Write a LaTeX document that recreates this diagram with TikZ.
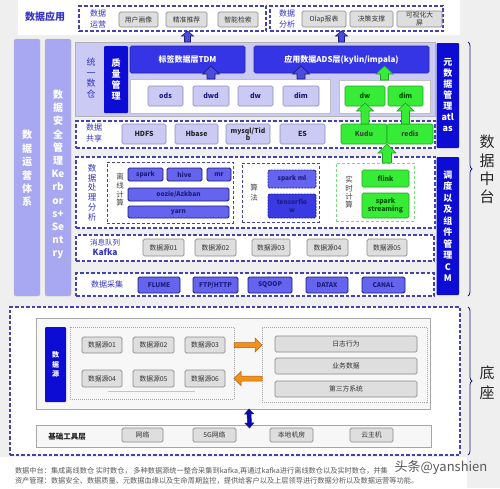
\documentclass[tikz,border=0pt]{standalone}
\usepackage{fontspec}
\setmainfont{Noto Sans CJK SC}
\usetikzlibrary{calc,decorations.pathreplacing}
\definecolor{bgc}{HTML}{EFEFEF}
\definecolor{dashc}{HTML}{4242B4}
\definecolor{lavc}{HTML}{A8A8F2}
\definecolor{lavL}{HTML}{CACAF4}
\definecolor{lavD}{HTML}{8C8CB8}
\definecolor{dblue}{HTML}{0C0CD4}
\definecolor{mblue}{HTML}{3535E6}
\definecolor{vblue}{HTML}{6464EE}
\definecolor{tfblue}{HTML}{3A3AE2}
\definecolor{navy}{HTML}{1C1C7C}
\definecolor{tblue}{HTML}{3434C4}
\definecolor{gfill}{HTML}{36EC36}
\definecolor{gdraw}{HTML}{22A022}
\definecolor{gdash}{HTML}{7ADC7A}
\definecolor{grayf}{HTML}{DEDEDE}
\definecolor{grayd}{HTML}{8A8A8A}
\definecolor{orng}{HTML}{F2901E}
\definecolor{orngd}{HTML}{B0600E}
\definecolor{arrb}{HTML}{4C4CDC}
\newcommand\fs[2]{\fontsize{#1}{#2}\selectfont}
\newcommand\bx[7]{\node[#2,minimum width={(#5-#3)*1pt},minimum height={(#6-#4)*1pt}] (#1) at ({(#3+#5)/2},{(#4+#6)/2}) {#7};}
\newcommand\fatarrow[6]{%
\path #2 coordinate (faS) #3 coordinate (faE);
\path ($(faE)!#6!(faS)$) coordinate (faH);
\draw[#1] ($(faS)!#4!90:(faE)$) -- ($(faH)!#4!-90:(faS)$) -- ($(faH)!#5!-90:(faS)$) -- (faE) -- ($(faH)!#5!90:(faS)$) -- ($(faH)!#4!90:(faS)$) -- ($(faS)!#4!-90:(faE)$) -- cycle;}
\newcommand\fatdarrow[6]{%
\path #2 coordinate (faS) #3 coordinate (faE);
\path ($(faE)!#6!(faS)$) coordinate (faH) ($(faS)!#6!(faE)$) coordinate (faG);
\draw[#1] (faS) -- ($(faG)!#5!90:(faE)$) -- ($(faG)!#4!90:(faE)$) -- ($(faH)!#4!-90:(faS)$) -- ($(faH)!#5!-90:(faS)$) -- (faE) -- ($(faH)!#5!90:(faS)$) -- ($(faH)!#4!90:(faS)$) -- ($(faG)!#4!-90:(faE)$) -- ($(faG)!#5!-90:(faE)$) -- cycle;}
\tikzset{
 every node/.style={inner sep=0pt,outer sep=0pt},
 dbox/.style={draw=dashc,line width=1.2pt,dash pattern=on 3.5pt off 2pt,fill=white},
 dboxthin/.style={draw=dashc,line width=1pt,dash pattern=on 3pt off 2pt,fill=white},
 gdbox/.style={draw=gdash,line width=1pt,dash pattern=on 3pt off 2pt,fill=white},
 graybox/.style={draw=grayd,fill=grayf,rounded corners=1.5pt,line width=0.7pt,font=\fs{6.8}{7.6},text=black!80,align=center},
 lavbox/.style={draw=lavD,fill=lavL,rounded corners=1.5pt,line width=0.6pt,font=\bfseries\fs{7}{8},text=navy,align=center},
 shbox/.style={lavbox,text=black!85},
 vbox/.style={draw=navy,fill=vblue,rounded corners=1.5pt,line width=0.8pt,font=\bfseries\fs{6.5}{7.5},text=navy,align=center},
 gbox/.style={draw=gdraw,fill=gfill,rounded corners=1.5pt,line width=0.6pt,font=\bfseries\fs{6.8}{8},text=black!70!green,align=center},
 dbbox/.style={fill=dblue,draw=none,text=white,font=\bfseries\fs{9}{11},align=center,rounded corners=1pt},
 mbbox/.style={fill=mblue,draw=mblue!70!black,line width=0.6pt,text=white,font=\bfseries\fs{8}{9},rounded corners=1.5pt},
 wbox/.style={fill=white,draw=gray!50,line width=0.6pt},
 tlabel/.style={text=tblue,align=center,font=\fs{8}{11}},
 lavcol/.style={fill=lavc,draw=gray!50,rounded corners=1.5pt},
 coltext/.style={text=white,font=\bfseries\fs{10}{13.2},align=center},
 grayframe/.style={draw=gray!70,fill=white!97!black,line width=0.8pt},
 dotbox/.style={draw=gray!70,dash pattern=on 1pt off 1pt,line width=0.7pt,fill=white!97!black},
 ftxt/.style={text=black!65,font=\fs{7.2}{8},anchor=west},
 bluearr/.style={fill=arrb,draw=navy,line width=0.6pt},
 greenarr/.style={fill=gfill,draw=gdraw,line width=0.6pt},
 orangearr/.style={fill=orng,draw=orngd,line width=0.5pt},
 darkarr/.style={fill=dblue!80!black,draw=navy,line width=0.5pt},
 bracec/.style={decorate,decoration={brace,amplitude=4pt},draw=navy,line width=0.8pt}
}
\begin{document}
\begin{tikzpicture}[x=1pt,y=-1pt]
\useasboundingbox (0,0) rectangle (500,488);
\fill[bgc] (0,0) rectangle (500,488);
\fill[white] (18,0) rectangle (460,35);
\fill[white] (0,457) rectangle (467,488);
% top row
\node[tlabel,font=\bfseries\fs{10}{12}] (appl) at (45,17) {数据应用};
\bx{yy}{dbox}{79}{6}{266}{31}{}
\node[tlabel] (yyl) at (98,18.5) {数据\\运营};
\bx{u1}{graybox}{119}{12}{158}{27}{用户画像}
\bx{u2}{graybox}{166}{12}{207}{27}{精准推荐}
\bx{u3}{graybox}{218}{12}{258}{27}{智能检索}
\bx{fx}{dbox}{270}{6}{443}{31}{}
\node[tlabel] (fxl) at (287,18.5) {数据\\分析};
\bx{a1}{graybox}{302}{11}{346}{27}{Olap报表}
\bx{a2}{graybox}{350}{11}{393}{27}{决策支撑}
\bx{a3}{graybox}{397}{11}{442}{27}{可视化大\\屏}
% left columns
\bx{yyc}{lavcol}{14}{39}{40}{296}{}
\node[coltext,font=\bfseries\fs{10}{13.4}] (yyct) at (27,168.5) {数\\据\\运\\营\\体\\系};
\bx{aqc}{lavcol}{45}{39}{71}{296}{}
\node[coltext] (aqct) at (58,174.5) {数\\据\\安\\全\\管\\理\\Ke\\rb\\or\\s+\\Se\\nt\\ry};
% unified warehouse
\bx{tyc}{fill=lavL,draw=gray!60,line width=0.6pt}{75}{42}{435}{116}{}
\node[tlabel,font=\fs{9}{10.7}] (tyl) at (91,78) {统\\一\\数\\仓};
\bx{zl}{dbbox}{104}{46}{128}{113}{质\\量\\管\\理}
\bx{tdm}{mbbox}{130}{46}{245}{73}{标签数据层TDM}
\bx{ads}{mbbox}{254}{46}{429}{73}{应用数据ADS层(kylin/impala)}
\bx{w1}{wbox}{130}{79}{330}{113}{}
\bx{ods}{lavbox}{148}{86}{183}{106}{ods}
\bx{dwd}{lavbox}{193}{86}{229}{106}{dwd}
\bx{dw}{lavbox}{238}{86}{273}{106}{dw}
\bx{dim}{lavbox}{283}{86}{319}{106}{dim}
\bx{w2}{wbox}{339}{80}{430}{113}{}
\bx{gdw}{gbox}{345}{86}{385}{106}{dw}
\bx{gdim}{gbox}{388}{86}{423}{106}{dim}
% right blue columns
\bx{meta}{dbbox}{436.5}{43}{459}{148}{元\\数\\据\\管\\理\\atl\\as}
\bx{cm}{dbbox,font=\bfseries\fs{9}{11.5}}{436.5}{157}{459}{295}{调\\度\\以\\及\\组\\件\\管\\理\\C\\M}
% data sharing
\bx{gx}{dbox}{76}{121}{435}{148}{}
\node[tlabel] (gxl) at (94,133) {数据\\共享};
\bx{hdfs}{shbox}{122}{124}{166}{144}{HDFS}
\bx{hbase}{shbox}{175}{124}{218}{144}{Hbase}
\bx{mysql}{shbox,font=\bfseries\fs{6.8}{7.5}}{226}{124}{270}{144}{mysql/Tid\\b}
\bx{es}{shbox}{280}{124}{325}{144}{ES}
\bx{kudu}{gbox,text=black!75}{341}{124}{387}{144}{Kudu}
\bx{redis}{gbox,text=black!75}{387}{124}{433}{144}{redis}
% processing
\bx{cl}{dbox}{76}{157}{435}{228}{}
\node[tlabel,font=\fs{8.5}{9.8}] (cll) at (92,192.5) {数\\据\\处\\理\\分\\析};
\bx{lx}{dboxthin}{107}{162}{233}{223}{}
\node[align=center,text=black!75,font=\fs{7.5}{8.7}] (lxl) at (120,190) {离\\线\\计\\算};
\bx{spark}{vbox}{128}{168}{163}{181}{spark}
\bx{hive}{vbox}{167}{168}{202}{181}{hive}
\bx{mr}{vbox}{207}{168}{231}{181}{mr}
\bx{oozie}{vbox}{128}{188}{229}{201}{oozie/Azkban}
\bx{yarn}{vbox}{128}{206}{229}{218}{yarn}
\bx{sf}{dboxthin}{242}{163}{319}{222}{}
\node[align=center,text=black!75,font=\fs{7.5}{10}] (sfl) at (254,193) {算\\法};
\bx{sml}{vbox,dash pattern=on 2pt off 1pt}{268}{170}{316}{188}{spark ml}
\bx{tf}{vbox,fill=tfblue,dash pattern=on 2pt off 1pt}{268}{194}{316}{218}{tensorflo\\w}
\bx{ss}{gdbox}{336}{163}{414}{221}{}
\node[align=center,text=black!75,font=\fs{7.5}{8.4}] (ssl) at (349,192.5) {实\\时\\计\\算};
\bx{flink}{gbox}{362}{170}{409}{187}{flink}
\bx{sst}{gbox}{362}{193}{409}{218}{spark\\streaming}
% kafka
\bx{kf}{dbox}{76}{235}{434}{261}{}
\node[tlabel,font=\fs{7.5}{10.5}] (kfl) at (105,247.5) {消息队列\\{\bfseries\fs{8.5}{10.5}Kafka}};
\bx{ks1}{graybox}{143}{239}{184}{256}{数据源01}
\bx{ks2}{graybox}{195}{239}{236}{256}{数据源02}
\bx{ks3}{graybox}{252}{239}{290}{256}{数据源03}
\bx{ks4}{graybox}{307}{239}{348}{256}{数据源04}
\bx{ks5}{graybox}{367}{239}{407}{256}{数据源05}
% collect
\bx{cj}{dbox}{76}{273}{434}{296}{}
\node[tlabel] (cjl) at (107,284) {数据采集};
\bx{flume}{vbox}{138}{277}{180}{293}{FLUME}
\bx{ftp}{vbox}{193}{277}{238}{293}{FTP/HTTP}
\bx{sqoop}{vbox}{248}{277}{292}{293}{SQOOP}
\bx{datax}{vbox}{306}{277}{348}{293}{DATAX}
\bx{canal}{vbox}{362}{277}{405}{293}{CANAL}
% base
\bx{dz}{dbox}{10}{307}{460}{455}{}
\bx{dsb}{grayframe}{36}{318}{430}{409}{}
\bx{dsl}{dbbox,font=\bfseries\fs{7}{9.5}}{45}{327}{66}{402}{数\\据\\源}
\bx{lb}{dotbox}{70}{327}{234}{399}{}
\bx{d1}{graybox}{82}{337}{122}{353}{数据源01}
\bx{d2}{graybox}{133}{337}{174}{353}{数据源02}
\bx{d3}{graybox}{185}{337}{225}{353}{数据源03}
\bx{d4}{graybox}{82}{370}{122}{387}{数据源04}
\bx{d5}{graybox}{133}{370}{174}{387}{数据源05}
\bx{d6}{graybox}{185}{370}{225}{387}{数据源06}
\draw[gray!45,line width=1pt] ($(d4.south west)+(26,4)$) -- ($(d6.south west)+(10,4)$);
\bx{rb}{dotbox}{262}{327}{427}{402}{}
\bx{r1}{graybox}{275}{336}{417}{352}{日志行为}
\bx{r2}{graybox}{275}{358}{417}{374}{业务数据}
\bx{r3}{graybox}{275}{381}{417}{397}{第三方系统}
\bx{tool}{grayframe}{36}{425}{431}{447}{}
\node[font=\bfseries\fs{7.5}{9},text=black!85] (tooll) at (67,437) {基础工具层};
\bx{t1}{graybox}{122}{428}{163}{442}{网络}
\bx{t2}{graybox}{193}{428}{236}{442}{5G网络}
\bx{t3}{graybox}{270}{428}{313}{442}{本地机房}
\bx{t4}{graybox}{350}{428}{393}{442}{云主机}
% arrows
\fatarrow{bluearr}{(tyc.north -| tdm)}{(yy.south -| tdm)}{3pt}{6pt}{5pt}
\fatarrow{bluearr}{(tyc.north -| ads)}{(fx.south -| ads)}{3pt}{6pt}{5pt}
\fatarrow{bluearr}{(w1.north -| dwd)}{($(tdm.south -| dwd)+(0,-7)$)}{4pt}{8.5pt}{8pt}
\fatarrow{bluearr}{(w1.north -| dim)}{($(ads.south -| dim)+(0,-7)$)}{4pt}{8.5pt}{8pt}
\fatarrow{greenarr}{(w2.north)}{($(ads.south -| w2)+(0,-7)$)}{4pt}{8.5pt}{8pt}
\fatarrow{greenarr}{(kudu.north -| gdw)}{($(gdw.south)+(0,-3)$)}{4pt}{8.5pt}{8pt}
\fatarrow{greenarr}{(redis.north -| gdim)}{($(gdim.south)+(0,-3)$)}{4pt}{8.5pt}{8pt}
\fatarrow{greenarr}{(ss.north -| kudu.south east)}{(kudu.south east)}{4.5pt}{9pt}{9pt}
\fatarrow{orangearr}{(lb.east |- d3)}{(rb.west |- d3)}{2.5pt}{7pt}{7pt}
\fatarrow{orangearr}{(rb.west |- d6)}{(lb.east |- d6)}{2.5pt}{7pt}{7pt}
\fatdarrow{darkarr}{($(dsb.south)+(16,0)$)}{($(tool.north)+(16,3)$)}{2pt}{4.5pt}{5pt}
% braces
\draw[bracec] ($(meta.north east)+(9,-1)$) -- ($(cm.south east)+(9,1)$);
\node[align=center,font=\fs{15}{18.3},text=black!85] (zt) at (487,169.5) {数\\据\\中\\台};
\draw[bracec] ($(dz.north east)+(8,0)$) -- ($(dz.south east)+(8,0)$);
\node[align=center,font=\fs{15}{20},text=black!85] (dzt) at (487,383) {底\\座};
% footer
\node[ftxt] (f1) at (15,471) {数据中台：集成离线数仓 实时数仓， 多种数据源统一整合采集到kafka,再通过kafka进行离线数仓以及实时数仓，并集};
\node[ftxt] (f2) at (15,481) {资产管理：数据安全、数据质量、元数据血缘以及生命周期监控，提供给客户以及上层领导进行数据分析以及数据运营等功能。};
\node[font=\fs{13}{14},text=black!65] (wm) at (441,468) {头条@yanshien};
\end{tikzpicture}
\end{document}
